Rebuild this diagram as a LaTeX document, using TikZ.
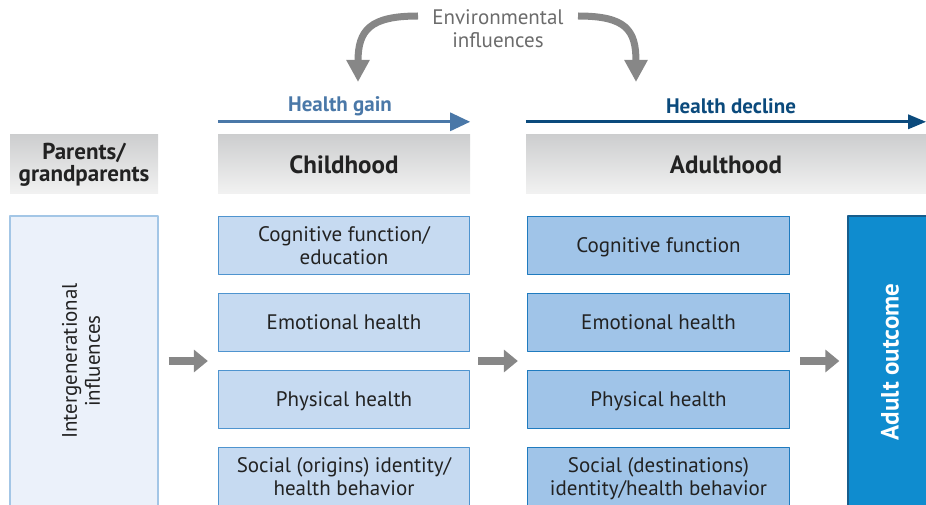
\documentclass[tikz,border=0pt]{standalone}
\usepackage{fontspec}
\setmainfont{PT Sans}
\usetikzlibrary{arrows.meta, calc, positioning}
\usepackage{xcolor}
\definecolor{headtop}{HTML}{CDCECF}
\definecolor{headbot}{HTML}{F2F2F2}
\definecolor{gaincol}{HTML}{4A78A8}
\definecolor{declinecol}{HTML}{0B4A7C}
\definecolor{envgray}{HTML}{6B6B6B}
\definecolor{arrowgray}{HTML}{878787}
\definecolor{interfill}{HTML}{EBF1FA}
\definecolor{interline}{HTML}{A3C6E6}
\definecolor{kidfill}{HTML}{C6DAF1}
\definecolor{kidline}{HTML}{4F94CF}
\definecolor{adultfill}{HTML}{A0C4E8}
\definecolor{adultline}{HTML}{1F7BBF}
\definecolor{outfill}{HTML}{0F8CCF}
\definecolor{outline}{HTML}{175D8C}
\definecolor{textcol}{HTML}{222222}

\begin{document}
\begin{tikzpicture}[line join=round,x=1pt,y=-1pt,
  every node/.style={font=\fontsize{21}{23}\selectfont, align=center, text=textcol, inner sep=0pt},
  headbox/.style={top color=headtop, bottom color=headbot, minimum height=59pt, font=\fontsize{25}{27}\selectfont\bfseries},
  kidbox/.style={draw=kidline, fill=kidfill, line width=1.3pt, minimum width=251pt, minimum height=58pt, text depth=0pt},
  adultbox/.style={draw=adultline, fill=adultfill, line width=1.3pt, minimum width=262pt, minimum height=58pt, text depth=0pt},
  grayarrow/.style={draw=arrowgray, line width=8pt, -{Triangle[length=14pt,width=22pt]}},
  bendarrow/.style={draw=arrowgray, line width=7pt, -{Triangle[length=22pt,width=22pt]}}]
\clip (0,0) rectangle (926,505);

% Headers
\node [headbox, minimum width=148pt, font=\fontsize{23}{22}\selectfont\bfseries] (parents) at (84,164.5) {Parents/\\grandparents};
\node [headbox, minimum width=252pt] (childhood) at (344,164.5) {Childhood};
\node [headbox, minimum width=400pt] (adulthood) at (726,164.5) {Adulthood};

% Health trend arrows
\draw [draw=gaincol, line width=3pt, -{Triangle[length=20pt,width=18pt]}] ([yshift=13pt]childhood.north west) -- ([yshift=13pt]childhood.north east);
\draw [draw=declinecol, line width=3pt, -{Triangle[length=18pt,width=14pt]}] ([yshift=13pt]adulthood.north west) -- ([yshift=13pt]adulthood.north east);
\node [text=gaincol, font=\fontsize{21}{23}\selectfont\bfseries] (gain) at (340,106) {Health gain};
\node [text=declinecol, font=\fontsize{21}{23}\selectfont\bfseries] (decline) at (731,106) {Health decline};

% Environment
\node [text=envgray] (env) at (498,28.5) {Environmental\\influences};
\coordinate (envL) at (418,16);
\coordinate (envR) at (578,16);
\coordinate (kidtop) at (358,82);
\coordinate (adulttop) at (636,82);
\draw [bendarrow] (envL) .. controls (370,16) and (358,30) .. (kidtop);
\draw [bendarrow] (envR) .. controls (626,16) and (636,30) .. (adulttop);

% Parents column
\node [draw=interline, fill=interfill, line width=1.3pt, minimum width=148pt, minimum height=290pt] (inter) at (84,361) {};
\node [rotate=90] (intertext) at ([xshift=-3pt]inter.center) {Intergenerational\\influences};

% Childhood column
\node [kidbox] (kid1) at (344,245.5) {Cognitive function/\\education};
\node [kidbox] (kid2) at (344,322.5) {Emotional health};
\node [kidbox] (kid3) at (344,399.5) {Physical health};
\node [kidbox] (kid4) at (344,476.5) {Social (origins) identity/\\health behavior};

% Adulthood column
\node [adultbox] (adult1) at (658.5,245.5) {Cognitive function};
\node [adultbox] (adult2) at (658.5,322.5) {Emotional health};
\node [adultbox] (adult3) at (658.5,399.5) {Physical health};
\node [adultbox] (adult4) at (658.5,476.5) {Social (destinations)\\identity/health behavior};

% Outcome
\node [draw=outline, fill=outfill, line width=1.3pt, minimum width=84pt, minimum height=292pt] (outcome) at (890,362) {};
\node [rotate=90, text=white, font=\fontsize{25}{27}\selectfont\bfseries] (outtext) at (outcome.center) {Adult outcome};

% Flow arrows
\coordinate (kidmid) at ($(kid2.south)!0.5!(kid3.north)$);
\coordinate (adultmid) at ($(adult2.south)!0.5!(adult3.north)$);
\draw [grayarrow, shorten <=10pt, shorten >=10pt] (inter.east |- kidmid) -- (kid2.west |- kidmid);
\draw [grayarrow, shorten <=8pt, shorten >=9pt] (kid2.east |- kidmid) -- (adult2.west |- adultmid);
\draw [grayarrow, shorten <=10pt, shorten >=8pt] (adult2.east |- adultmid) -- (outcome.west |- adultmid);
\end{tikzpicture}
\end{document}
